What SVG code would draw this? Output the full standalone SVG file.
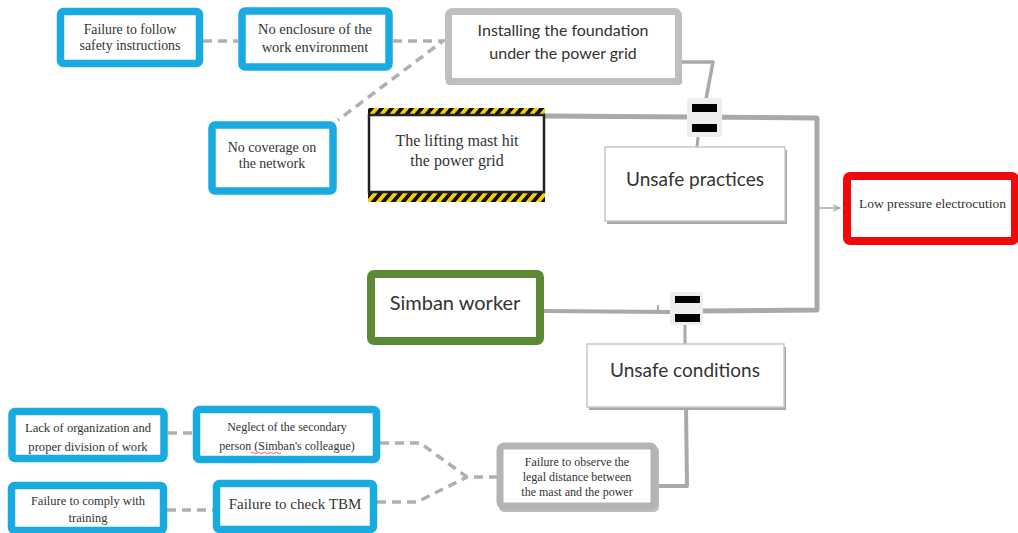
<svg xmlns="http://www.w3.org/2000/svg" width="1018" height="533" viewBox="0 0 1018 533">
<defs>
<style>
.blue{fill:#fff;stroke:#1aaae2;stroke-width:7.5}
.ser{font-family:"Liberation Serif","Times New Roman",serif;fill:#333;text-anchor:middle}
.cal{font-family:Lato,"Open Sans",sans-serif;fill:#333;text-anchor:middle}
.dash{fill:none;stroke:#b0b0b0;stroke-width:3.5;stroke-dasharray:9 6}
.sol{fill:none;stroke:#a9a9a9;stroke-width:4;stroke-linejoin:round}
.thin{fill:none;stroke:#a9a9a9;stroke-width:2}
.bar{fill:#000}
.mbg{fill:#eeeeee}
</style>
<pattern id="haz" width="10" height="10" patternUnits="userSpaceOnUse" patternTransform="skewX(-40)">
<rect width="10" height="10" fill="#f4cf0a"/>
<rect width="5" height="10" fill="#111"/>
</pattern>
<marker id="arr" markerWidth="8" markerHeight="8" refX="7" refY="4" orient="auto" markerUnits="userSpaceOnUse">
<path d="M0,1 L7,4 L0,7" fill="none" stroke="#a9a9a9" stroke-width="1.3"/>
</marker>
</defs>
<rect width="1018" height="533" fill="#fff"/>

<g id="connectors">
<path class="dash" d="M203,41 H238"/>
<path class="dash" d="M393,41 H443 L338,120"/>
<path class="dash" d="M168,433 H193"/>
<path class="dash" d="M167,510 H213"/>
<path class="dash" d="M380,443 H420 L467,477 H497"/>
<path class="dash" d="M377,502 H417 L467,477"/>
<path class="sol" style="stroke-width:3.5" d="M680,62 H713 L706,99"/>
<path class="sol" style="stroke-width:3" d="M698,137 L697,147"/>
<path class="sol" style="stroke-width:5" d="M545,116 L817,118 V310 L703,311"/>
<path class="sol" d="M544,311 L670,312"/>
<path class="thin" d="M658,305 V313"/>
<path class="sol" style="stroke-width:3" d="M685,325 V344"/>
<path class="sol" d="M686,407 L687,486 H657"/>
<path class="thin" style="stroke-width:1.5" d="M818,208 H840" marker-end="url(#arr)"/>
<g id="junction-top">
<rect class="mbg" x="687" y="98" width="35" height="39" rx="3"/>
<rect class="bar" x="692" y="104" width="25" height="8"/>
<rect class="bar" x="692" y="124" width="25" height="8"/>
</g>
<g id="junction-bottom">
<rect class="mbg" x="670" y="292" width="33" height="33" rx="3"/>
<rect class="bar" x="675" y="296" width="25" height="7"/>
<rect class="bar" x="675" y="314" width="25" height="8"/>
</g>
</g>

<g id="n-follow">
<rect class="blue" x="60.5" y="11.5" width="139" height="52" rx="3"/>
<text class="ser" font-size="13.8" x="130" y="34">Failure to follow</text>
<text class="ser" font-size="13.8" x="130" y="50">safety instructions</text>
</g>
<g id="n-enclosure">
<rect class="blue" x="242" y="11" width="147" height="56" rx="3"/>
<text class="ser" font-size="14.5" x="315" y="34">No enclosure of the</text>
<text class="ser" font-size="14.5" x="315" y="52">work environment</text>
</g>
<g id="n-installing">
<rect x="446" y="12" width="236" height="73" rx="4" fill="#b3b3b3"/>
<rect x="448.5" y="11.5" width="230" height="70" rx="4" fill="#fff" stroke="#bfbfbf" stroke-width="7"/>
<text class="cal" font-size="16" x="563" y="36">Installing the foundation</text>
<text class="cal" font-size="16" x="563" y="59">under the power grid</text>
</g>
<g id="n-coverage">
<rect class="blue" x="212" y="125" width="121" height="66" rx="3"/>
<text class="ser" font-size="14" x="272" y="152">No coverage on</text>
<text class="ser" font-size="14" x="272" y="168">the network</text>
</g>
<g id="n-mast">
<rect x="368" y="108" width="177" height="94" fill="url(#haz)"/>
<rect x="369" y="115" width="175" height="77" fill="#fff" stroke="#222" stroke-width="2.5"/>
<text class="ser" font-size="16" x="457" y="146">The lifting mast hit</text>
<text class="ser" font-size="16" x="457" y="166">the power grid</text>
</g>
<g id="n-practices">
<rect x="607" y="150" width="180" height="74" fill="#a8a8a8"/>
<rect x="605" y="147" width="180" height="74" fill="#fff" stroke="#c8c8c8" stroke-width="1.5"/>
<text class="cal" font-size="19" x="695" y="186">Unsafe practices</text>
</g>
<g id="n-electrocution">
<rect x="847" y="176" width="168" height="65" rx="3" fill="#fff" stroke="#ee0a0a" stroke-width="8"/>
<text class="ser" font-size="13.5" x="859" y="208" style="text-anchor:start">Low pressure electrocution</text>
</g>
<g id="n-simban">
<rect x="371" y="274" width="169" height="67" rx="3" fill="#fff" stroke="#5a8a35" stroke-width="8"/>
<text class="cal" font-size="20" x="455" y="310">Simban worker</text>
</g>
<g id="n-conditions">
<rect x="589" y="347" width="197" height="63" fill="#a8a8a8"/>
<rect x="587" y="344" width="197" height="63" fill="#fff" stroke="#c8c8c8" stroke-width="1.5"/>
<text class="cal" font-size="19" x="685" y="377">Unsafe conditions</text>
</g>
<g id="n-distance">
<rect x="499" y="446" width="160" height="66" rx="5" fill="#bdbdbd"/>
<rect x="500" y="446" width="154" height="60" rx="4" fill="#fff" stroke="#b4b4b4" stroke-width="7"/>
<text class="ser" font-size="12" x="577" y="466">Failure to observe the</text>
<text class="ser" font-size="12" x="577" y="481">legal distance between</text>
<text class="ser" font-size="12" x="577" y="496">the mast and the power</text>
</g>
<g id="n-lack">
<rect class="blue" x="12" y="411.5" width="152" height="47" rx="3"/>
<text class="ser" font-size="12.6" x="88" y="432">Lack of organization and</text>
<text class="ser" font-size="12.6" x="88" y="451">proper division of work</text>
</g>
<g id="n-neglect">
<rect class="blue" x="196.5" y="409.5" width="180" height="50" rx="3"/>
<text class="ser" font-size="12" x="287" y="431">Neglect of the secondary</text>
<text class="ser" font-size="12" x="287" y="450">person (Simban's colleague)</text>
<path d="M251,453 q1.5,-1.5 3,0 t3,0 t3,0 t3,0 t3,0 t3,0 t3,0 t3,0 t3,0 t3,0" fill="none" stroke="#e03030" stroke-width="0.8"/>
</g>
<g id="n-comply">
<rect class="blue" x="11.5" y="485.5" width="152" height="45" rx="3"/>
<text class="ser" font-size="12.5" x="88" y="505">Failure to comply with</text>
<text class="ser" font-size="12.5" x="88" y="522">training</text>
</g>
<g id="n-tbm">
<rect class="blue" x="216.5" y="483.5" width="157" height="46" rx="3"/>
<text class="ser" font-size="15" x="295" y="509">Failure to check TBM</text>
</g>
</svg>
